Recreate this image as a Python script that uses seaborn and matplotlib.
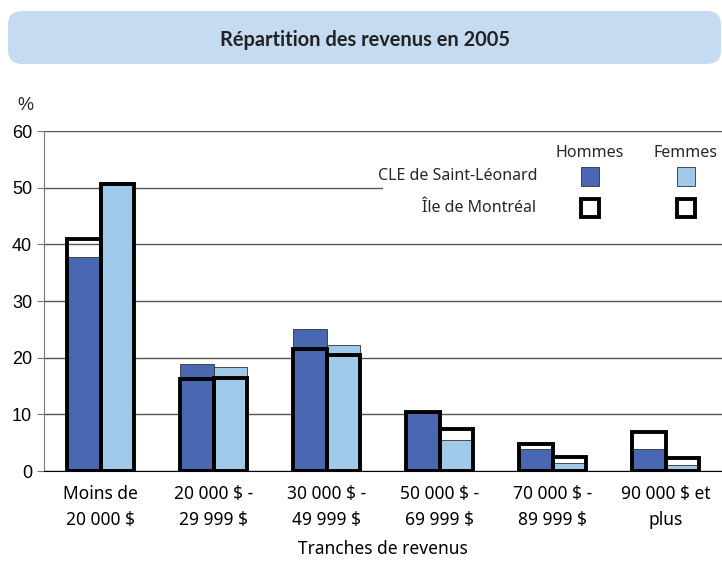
import matplotlib
matplotlib.use("Agg")
import matplotlib.pyplot as plt
import matplotlib.transforms as mtransforms
from matplotlib.patches import FancyBboxPatch, Rectangle
import pandas as pd
import seaborn as sns

# data (%)
tranches = ["Moins de\n20 000 $", "20 000 $ -\n29 999 $", "30 000 $ -\n49 999 $",
            "50 000 $ -\n69 999 $", "70 000 $ -\n89 999 $", "90 000 $ et\nplus"]
sexes = ["Hommes", "Femmes"]
cle_hommes = [37.7, 18.8, 25.0, 10.2, 3.8, 3.8]
cle_femmes = [51.0, 18.4, 22.3, 5.4, 1.5, 1.0]
mtl_hommes = [40.9, 16.2, 21.6, 10.4, 4.7, 6.9]
mtl_femmes = [50.6, 16.5, 20.4, 7.5, 2.4, 2.3]

dark = "#4a67b1"
light = "#a0c9ea"


def long_table(h, f):
    return pd.DataFrame({
        "tranche": tranches * 2,
        "sexe": ["Hommes"] * len(tranches) + ["Femmes"] * len(tranches),
        "pct": h + f,
    })


cle = long_table(cle_hommes, cle_femmes)
mtl = long_table(mtl_hommes, mtl_femmes)

sns.set_style("white")
plt.rcParams["font.family"] = ["Noto Sans", "DejaVu Sans"]

fig = plt.figure(figsize=(7.22, 5.66), dpi=100)
ax = fig.add_axes([44 / 722, 1 - 471 / 566, 678 / 722, 340 / 566])

# CLE de Saint-Léonard : filled bars
sns.barplot(data=cle, x="tranche", y="pct", hue="sexe", hue_order=sexes,
            palette=[dark, light], saturation=1, width=0.59,
            edgecolor="#333333", linewidth=0.6, legend=False, ax=ax, zorder=2)
n_before = len(ax.patches)
# Île de Montréal : thick black outlines
sns.barplot(data=mtl, x="tranche", y="pct", hue="sexe", hue_order=sexes,
            palette=["black", "black"], width=0.59, legend=False, ax=ax, zorder=3)
for p in ax.patches[n_before:]:
    p.set_facecolor("none")
    p.set_edgecolor("black")
    p.set_linewidth(2.8)

ax.set_xlim(-0.5, 5.5)
ax.set_ylim(0, 60)
ax.set_yticks(range(0, 61, 10))
ax.yaxis.grid(True, color="#555555", linewidth=1.0)
ax.set_axisbelow(True)
for s in ["top", "right"]:
    ax.spines[s].set_visible(False)
ax.spines["left"].set_color("#777777")
ax.spines["bottom"].set_color("black")
ax.tick_params(axis="y", left=True, length=5, color="#777777", labelsize=13,
               labelcolor="black")
for lab in ax.get_yticklabels():
    lab.set_family("Liberation Sans")
ax.tick_params(axis="x", length=0, labelsize=12.5, pad=10, labelcolor="black")
for lab in ax.get_xticklabels():
    lab.set_linespacing(1.6)
ax.set_ylabel("")
ax.set_xlabel("Tranches de revenus", fontsize=12.5, labelpad=8, color="black")

# legend area
ax.add_patch(Rectangle((2.5, 43.5), 3.0, 14.5, facecolor="white",
                       edgecolor="none", zorder=1))
for xc, name, col in [(4.33, "Hommes", dark), (5.18, "Femmes", light)]:
    ax.text(xc, 56.1, name, ha="center", va="center", fontsize=11.5, zorder=5)
    ax.add_patch(Rectangle((xc - 0.08, 50.3), 0.16, 3.4, facecolor=col,
                           edgecolor="#333333", linewidth=0.6, zorder=5))
    ax.add_patch(Rectangle((xc - 0.08, 44.8), 0.16, 3.2, facecolor="white",
                           edgecolor="black", linewidth=2.8, zorder=5))
ax.text(3.87, 52.0, "CLE de Saint-Léonard", ha="right", va="center",
        fontsize=11.5, zorder=5)
ax.text(3.85, 46.4, "Île de Montréal", ha="right", va="center",
        fontsize=11.5, zorder=5)

# title banner
fig.patches.append(FancyBboxPatch((8, 502), 713, 53,
                                  boxstyle="round,pad=0,rounding_size=14",
                                  facecolor="#c5dbf1", edgecolor="none",
                                  transform=mtransforms.IdentityTransform(),
                                  figure=fig))
fig.text(0.506, 1 - 40 / 566, "Répartition des revenus en 2005", ha="center",
         va="center", fontsize=14.4, fontweight="bold", color="#222222",
         family=["Lato", "DejaVu Sans"])
fig.text(25 / 722, 1 - 105 / 566, "%", ha="center", va="center", fontsize=13,
         family="Liberation Sans")

fig.savefig("out.png", dpi=100)
